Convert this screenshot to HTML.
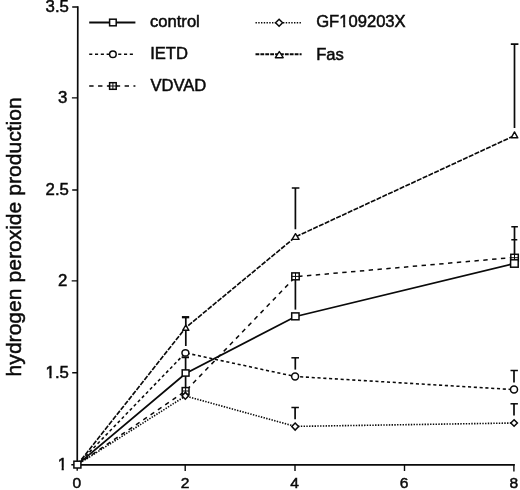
<!DOCTYPE html>
<html><head><meta charset="utf-8">
<style>
html,body{margin:0;padding:0;background:#fff;}
body{width:520px;height:490px;overflow:hidden;}
svg{display:block;filter:grayscale(1);}
text{font-family:"Liberation Sans",sans-serif;fill:#0a0a0a;stroke:#0a0a0a;stroke-width:0.5;}
.tk{font-size:16.8px;}
.tx{font-size:15.6px;}
.lg{font-size:16.6px;}
.yl{font-size:21.1px;}
.ax{stroke:#0a0a0a;stroke-width:1.7;fill:none;stroke-linejoin:miter;}
.t{stroke:#0a0a0a;stroke-width:1.4;fill:none;}
.e{stroke:#0a0a0a;stroke-width:1.7;fill:none;}
.s{stroke:#0a0a0a;stroke-width:1.5;fill:#fff;}
.tr{stroke:#0a0a0a;stroke-width:1.4;fill:#fff;stroke-linejoin:round;}
.c{stroke:#0a0a0a;stroke-width:1.5;fill:none;}
.g{stroke:#0a0a0a;stroke-width:1;fill:none;}
</style></head><body>
<svg width="520" height="490" viewBox="0 0 520 490">
<rect width="520" height="490" fill="#fff"/>
<!-- axes -->
<path class="ax" d="M77.8 6.3 L77.25 464.8 H514.7"/>
<!-- y ticks -->
<path class="t" d="M72.2 7H77.8 M71.9 97.9H77.7 M72.2 190H77.6 M71.7 280.9H77.5 M72.2 372.8H77.4 M71.3 464.8H77.3"/>
<!-- x ticks -->
<path class="t" d="M77.2 465V470.8 M185.2 465V470.9 M295 465V470.9 M404.5 465V470.9 M513.9 464V471.4"/>
<!-- tick labels -->
<g class="tk" text-anchor="end">
<text transform="translate(68.9 11.6) scale(1 0.935)">3.5</text>
<text transform="translate(67.3 103.1) scale(1 0.935)">3</text>
<text transform="translate(68.9 195.2) scale(1 0.935)">2.5</text>
<text transform="translate(67.3 285.9) scale(1 0.935)">2</text>
<text transform="translate(68.9 378.1) scale(1 0.935)">1.5</text>
<text transform="translate(67.2 469.8) scale(1 0.935)">1</text>
</g>
<g class="tx" text-anchor="middle">
<text transform="translate(76.8 487.9) scale(1 0.935)">0</text>
<text transform="translate(185.1 487.8) scale(1 0.935)">2</text>
<text transform="translate(294.5 487.8) scale(1 0.935)">4</text>
<text transform="translate(404 487.8) scale(1 0.935)">6</text>
<text transform="translate(513.8 488.3) scale(1 0.935)">8</text>
</g>
<!-- y label -->
<text class="yl" transform="translate(20.5 376.4) rotate(-90)">hydrogen peroxide production</text>

<!-- series lines -->
<polyline id="fas" points="77.4,464.6 185.8,327.6 295.5,236.9 514.5,135.6" fill="none" stroke="#0a0a0a" stroke-width="1.65" stroke-dasharray="5 1.35"/>
<polyline id="ietd" points="77.4,464.6 185.4,352.9 295.1,376.5 514,389.6" fill="none" stroke="#0a0a0a" stroke-width="1.55" stroke-dasharray="3.1 2.7"/>
<polyline id="vdvad" points="77.4,464.6 185.6,391 295.6,276.7 514.4,257.4" fill="none" stroke="#0a0a0a" stroke-width="1.5" stroke-dasharray="4.4 4.45"/>
<polyline id="gf" points="77.4,464.6 185.5,396 295.2,426.4 514.1,423" fill="none" stroke="#0a0a0a" stroke-width="1.6" stroke-dasharray="1.4 1.35"/>
<polyline id="ctl" points="77.4,464.6 185.6,373.5 295.6,316.5 514.4,263.5" fill="none" stroke="#0a0a0a" stroke-width="1.8"/>

<!-- error bars -->
<path class="e" d="M185.8 317V346 M185.6 357V392"/>
<path class="e" d="M291.8 188H299.4 M295.4 188V229.2"/>
<path class="e" d="M295.4 277V309.6"/>
<path class="e" d="M510.8 44.2H518.4 M514.5 44.2V127.9"/>
<path class="e" d="M514.5 226.7V256"/>
<path d="M181.9 317.2H189.2" stroke="#0a0a0a" stroke-width="2.3" fill="none"/>
<path class="c" d="M511.3 226.7H517.9 M511.3 239.7H517.3"/>
<path d="M181.6 357.3H189" stroke="#0a0a0a" stroke-width="1.9" fill="none"/>
<!-- T bars -->
<path class="e" d="M295.3 357.8V369.6"/><path class="c" d="M291.4 357.8H299"/>
<path class="e" d="M295.1 407.5V419.2"/><path class="c" d="M291.4 407.5H298.9"/>
<path class="e" d="M514 370.5V382.6"/><path class="c" d="M510.5 370.5H517.9"/>
<path class="e" d="M514 403.8V415.4"/><path class="c" d="M510.5 403.8H517.9"/>

<!-- markers -->
<!-- gf diamonds -->
<path class="s" d="M295.15 423.1l3.4 3.5l-3.4 3.5l-3.4 -3.5z"/>
<path class="s" d="M514.1 419.7l3.3 3.3l-3.3 3.3l-3.3 -3.3z"/>
<!-- vdvad squares -->
<g id="v2"><rect class="s" x="182.2" y="387.6" width="6.8" height="6.8"/><path class="g" d="M185.6 387.6v6.8M182.2 391h6.8"/></g>
<g id="v4"><rect class="s" x="291.8" y="272.9" width="7.4" height="6.9"/><path class="g" d="M295.5 272.9v6.9M291.8 276.4h7.4"/></g>
<g id="v8"><rect class="s" x="510.8" y="254.3" width="7.5" height="7"/><path class="g" d="M514.5 254.3v7M510.8 257.7h7.5"/></g>
<path class="s" d="M185.3 392.4l3.4 3.45l-3.4 3.45l-3.4 -3.45z"/>
<!-- control squares -->
<rect class="s" x="73.9" y="461.2" width="7" height="6.8"/>
<rect class="s" x="182.2" y="369.9" width="6.8" height="6.2"/>
<rect class="s" x="291.7" y="312.9" width="7.3" height="6.9"/>
<rect class="s" x="510.6" y="259.8" width="7.6" height="7.4"/>
<!-- ietd circles -->
<ellipse class="s" cx="185.4" cy="352.9" rx="3.45" ry="3.2"/>
<circle class="s" cx="295.1" cy="376.5" r="3.45"/>
<circle class="s" cx="514" cy="389.6" r="3.5"/>
<!-- fas triangles -->
<path class="tr" d="M185.8 325.2L188.9 330.3H182.6Z"/>
<path class="tr" d="M295.5 233.7L299.1 239.4H292.1Z" stroke-width="1.6"/>
<path class="tr" d="M514.5 131.9L517.8 137.8H511.2Z" stroke-width="1.7"/>

<!-- legend -->
<path d="M89.2 22.5H135.4" stroke="#0a0a0a" stroke-width="1.8" fill="none"/>
<rect class="s" x="109.6" y="19.2" width="6.6" height="6.6"/>
<path d="M89.2 54.2H135.4" stroke="#0a0a0a" stroke-width="1.5" stroke-dasharray="3.1 2.7" fill="none"/>
<circle class="s" cx="112.9" cy="54.3" r="3.3"/>
<path d="M89.2 86H135.4" stroke="#0a0a0a" stroke-width="1.4" stroke-dasharray="4.4 4.45" fill="none"/>
<g><rect class="s" x="109.6" y="82.7" width="6.6" height="6.6"/><path class="g" d="M112.9 82.7v6.6M108.5 86h9"/></g>
<path d="M255.5 22.8H301.6" stroke="#0a0a0a" stroke-width="1.5" stroke-dasharray="1.4 1.35" fill="none"/>
<path class="s" d="M279.1 19.3l3.5 3.5l-3.5 3.5l-3.5 -3.5z"/>
<path d="M255.5 54.2H301.6" stroke="#0a0a0a" stroke-width="1.9" stroke-dasharray="3.8 1.1" fill="none"/>
<path class="tr" d="M279.3 51.5L283.2 57.7H275.4Z" stroke-width="1.5"/>
<g class="lg">
<text x="150" y="27.3">control</text>
<text x="150.2" y="59.4">IETD</text>
<text x="150.4" y="90.9">VDVAD</text>
<text x="316.2" y="27.1">GF109203X</text>
<text x="316.2" y="59.8">Fas</text>
</g>
<!-- hide the foot serif of the digit 1 (target font has a plain stem) -->
<g fill="#fff" stroke="none">
<rect x="57.3" y="467.55" width="4.3" height="3.6"/><rect x="63.8" y="467.55" width="3.4" height="3.6"/>
<rect x="45.3" y="375.55" width="4.05" height="3.6"/><rect x="51.6" y="375.55" width="3.6" height="3.6"/>
<rect x="339.3" y="24.55" width="3.9" height="3.6"/><rect x="345.25" y="24.55" width="3" height="3.6"/>
</g>
</svg>
</body></html>
